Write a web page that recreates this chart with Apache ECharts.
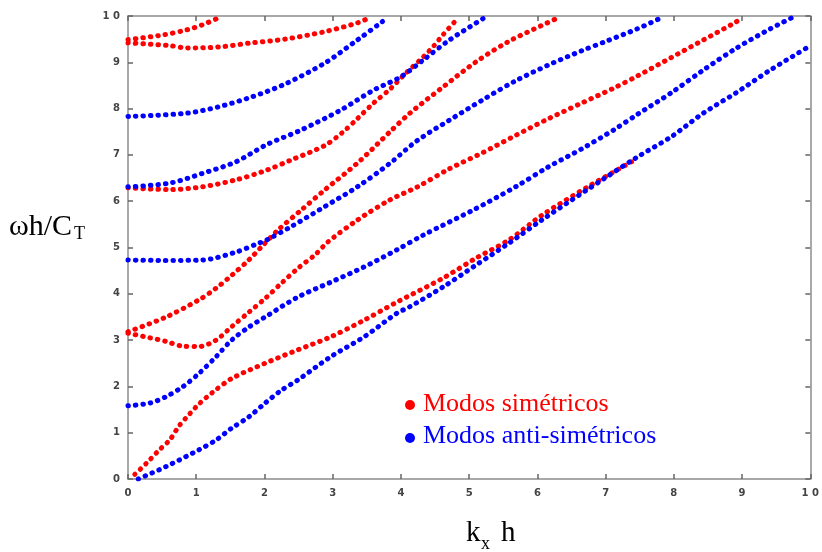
<!DOCTYPE html>
<html>
<head>
<meta charset="utf-8">
<script src="https://cdn.jsdelivr.net/npm/echarts@6/dist/echarts.min.js"></script>
<style>html,body{margin:0;padding:0;background:#fff}#c{width:822px;height:552px}</style>
</head>
<body>
<div id="c"></div>
<script>
// Symmetric modes (red)
const symS0 = [[0.1,0.1],[0.27,0.34],[0.46,0.63],[0.61,0.84],[0.75,1.15],[0.9,1.4],[1.04,1.62],[1.23,1.86],[1.52,2.17],[2.01,2.5],[2.49,2.79],[2.97,3.07],[3.46,3.43],[3.94,3.82],[4.62,4.34],[5.1,4.77],[5.58,5.16],[6.07,5.7],[6.74,6.31],[7.38,6.85]];
const symS1 = [[0,3.15],[0.32,3.05],[0.56,2.97],[0.8,2.87],[1.04,2.86],[1.29,3.0],[1.52,3.29],[1.77,3.6],[2.01,3.9],[2.25,4.23],[2.49,4.55],[2.74,4.84],[2.93,5.12],[3.36,5.59],[3.84,6.03],[4.23,6.3],[4.71,6.7],[5.2,7.05],[5.68,7.42],[6.16,7.78],[6.65,8.12],[7.13,8.45],[7.46,8.7],[7.96,9.1],[8.43,9.48],[8.91,9.87],[9.0,9.97]];
const symS2 = [[0,3.18],[0.56,3.5],[1.04,3.87],[1.29,4.12],[1.52,4.4],[1.77,4.73],[1.96,5.02],[2.2,5.38],[2.54,5.81],[2.88,6.24],[3.36,6.82],[3.84,7.5],[4.13,7.9],[4.62,8.47],[5.1,9.01],[5.58,9.45],[6.07,9.8],[6.33,9.98]];
const symS3 = [[0,6.29],[0.61,6.25],[1.09,6.31],[1.58,6.46],[2.03,6.67],[2.39,6.89],[2.88,7.2],[3.14,7.48],[3.36,7.78],[3.6,8.12],[3.84,8.42],[4.04,8.72],[4.33,9.12],[4.48,9.35],[4.62,9.6],[4.84,9.96]];
const symS4 = [[0,9.49],[0.51,9.59],[0.86,9.7],[1.09,9.81],[1.36,9.98]];
const symS5 = [[0,9.42],[0.61,9.36],[0.86,9.31],[1.33,9.33],[1.81,9.42],[2.3,9.5],[2.88,9.66],[3.36,9.85],[3.55,9.97]];
// Antisymmetric modes (blue)
const antA0 = [[0.15,0],[0.56,0.27],[1.04,0.63],[1.29,0.84],[1.52,1.1],[1.77,1.34],[2.01,1.64],[2.25,1.92],[2.49,2.14],[2.97,2.64],[3.46,3.07],[3.94,3.58],[4.13,3.72],[4.62,4.15],[5.1,4.62],[5.58,5.09],[6.07,5.6],[6.99,6.5],[7.46,6.95],[7.96,7.39],[8.43,7.9],[8.91,8.34],[9.41,8.83],[9.97,9.33]];
const antA1 = [[0,1.58],[0.32,1.64],[0.56,1.78],[0.8,1.99],[1.04,2.28],[1.29,2.64],[1.52,3.0],[1.77,3.28],[2.01,3.5],[2.49,3.93],[2.97,4.25],[3.46,4.58],[3.94,4.95],[4.33,5.27],[5.06,5.81],[5.68,6.31],[6.16,6.74],[6.65,7.13],[7.13,7.55],[7.46,7.87],[7.96,8.34],[8.43,8.83],[8.91,9.3],[9.41,9.72],[9.74,9.97]];
const antA2 = [[0,4.73],[0.5,4.72],[1.09,4.73],[1.58,4.9],[1.91,5.09],[2.03,5.16],[2.39,5.45],[2.88,5.88],[3.36,6.31],[3.84,6.82],[4.23,7.3],[4.71,7.75],[5.2,8.19],[5.68,8.6],[6.16,8.94],[6.65,9.25],[7.0,9.45],[7.46,9.72],[7.83,9.97]];
const antA3 = [[0,6.31],[0.61,6.39],[1.09,6.6],[1.58,6.85],[2.03,7.22],[2.54,7.54],[3.12,7.97],[3.6,8.4],[3.99,8.68],[4.33,9.05],[4.71,9.48],[5.22,9.96]];
const antA4 = [[0,7.83],[0.86,7.9],[1.33,8.04],[1.81,8.25],[2.3,8.53],[2.88,8.98],[3.36,9.48],[3.72,9.87],[3.8,9.97]];

const xTicks = [0,1,2,3,4,5,6,7,8,9,10];
const yTicks = [0,1,2,3,4,5,6,7,8,9,10];
const legendNames = ['Modos simétricos','Modos anti-simétricos'];
const titleY = ['ωh/C','T'];
const titleX = ['k','x','h'];

const RED = '#ff0000', BLUE = '#0000ff';
function mk(name, data, color) {
  return {
    type: 'line', name: name, data: data, smooth: 0.3, showSymbol: false,
    silent: true, animation: false, clip: true,
    lineStyle: { color: color, width: 5, type: [0.5, 7], cap: 'round' },
    itemStyle: { color: color }
  };
}
const series = [
  ...[symS0, symS1, symS2, symS3, symS4, symS5].map(d => mk(legendNames[0], d, RED)),
  ...[antA0, antA1, antA2, antA3, antA4].map(d => mk(legendNames[1], d, BLUE))
];

const axisLineStyle = { onZero: false, lineStyle: { color: '#8c8c8c', width: 1.5 } };
const tickStyle = { inside: true, length: 5, lineStyle: { color: '#666', width: 1.5 } };
const lbl = v => (v === 10 ? '1 0' : String(v));

const chart = echarts.init(document.getElementById('c'), null, { renderer: 'canvas' });
chart.setOption({
  backgroundColor: '#fff',
  animation: false,
  grid: { left: 128, right: 4, top: 16, bottom: 73, containLabel: false },
  xAxis: [
    { type: 'value', min: xTicks[0], max: xTicks[xTicks.length - 1], interval: 1, position: 'bottom',
      axisLine: axisLineStyle, axisTick: tickStyle, splitLine: { show: false },
      axisLabel: { formatter: lbl, fontSize: 10, fontWeight: 'bold', color: '#444', fontFamily: 'DejaVu Sans', margin: 9 } },
    { type: 'value', min: xTicks[0], max: xTicks[xTicks.length - 1], interval: 1, position: 'top',
      axisLine: axisLineStyle, axisTick: tickStyle, splitLine: { show: false }, axisLabel: { show: false } }
  ],
  yAxis: [
    { type: 'value', min: yTicks[0], max: yTicks[yTicks.length - 1], interval: 1, position: 'left',
      axisLine: axisLineStyle, axisTick: tickStyle, splitLine: { show: false },
      axisLabel: { formatter: lbl, fontSize: 10, fontWeight: 'bold', color: '#444', fontFamily: 'DejaVu Sans', margin: 8 } },
    { type: 'value', min: yTicks[0], max: yTicks[yTicks.length - 1], interval: 1, position: 'right',
      axisLine: axisLineStyle, axisTick: tickStyle, splitLine: { show: false }, axisLabel: { show: false } }
  ],
  series: series,
  graphic: [
    { type: 'circle', shape: { cx: 410, cy: 405, r: 5 }, style: { fill: RED } },
    { type: 'text', x: 423, y: 404, style: { text: legendNames[0], fill: RED, font: '26px "Liberation Serif"', verticalAlign: 'middle' } },
    { type: 'circle', shape: { cx: 410, cy: 438, r: 5 }, style: { fill: BLUE } },
    { type: 'text', x: 423, y: 436, style: { text: legendNames[1], fill: BLUE, font: '26px "Liberation Serif"', verticalAlign: 'middle' } },
    { type: 'text', x: 9, y: 227, style: { text: titleY[0], fill: '#000', font: '30px "Liberation Serif"', verticalAlign: 'middle' } },
    { type: 'text', x: 74, y: 234, style: { text: titleY[1], fill: '#000', font: '18px "Liberation Serif"', verticalAlign: 'middle' } },
    { type: 'text', x: 466, y: 533, style: { text: titleX[0], fill: '#000', font: '29px "Liberation Serif"', verticalAlign: 'middle' } },
    { type: 'text', x: 481, y: 544, style: { text: titleX[1], fill: '#000', font: '18px "Liberation Serif"', verticalAlign: 'middle' } },
    { type: 'text', x: 501, y: 533, style: { text: titleX[2], fill: '#000', font: '29px "Liberation Serif"', verticalAlign: 'middle' } }
  ]
});
</script>
</body>
</html>
